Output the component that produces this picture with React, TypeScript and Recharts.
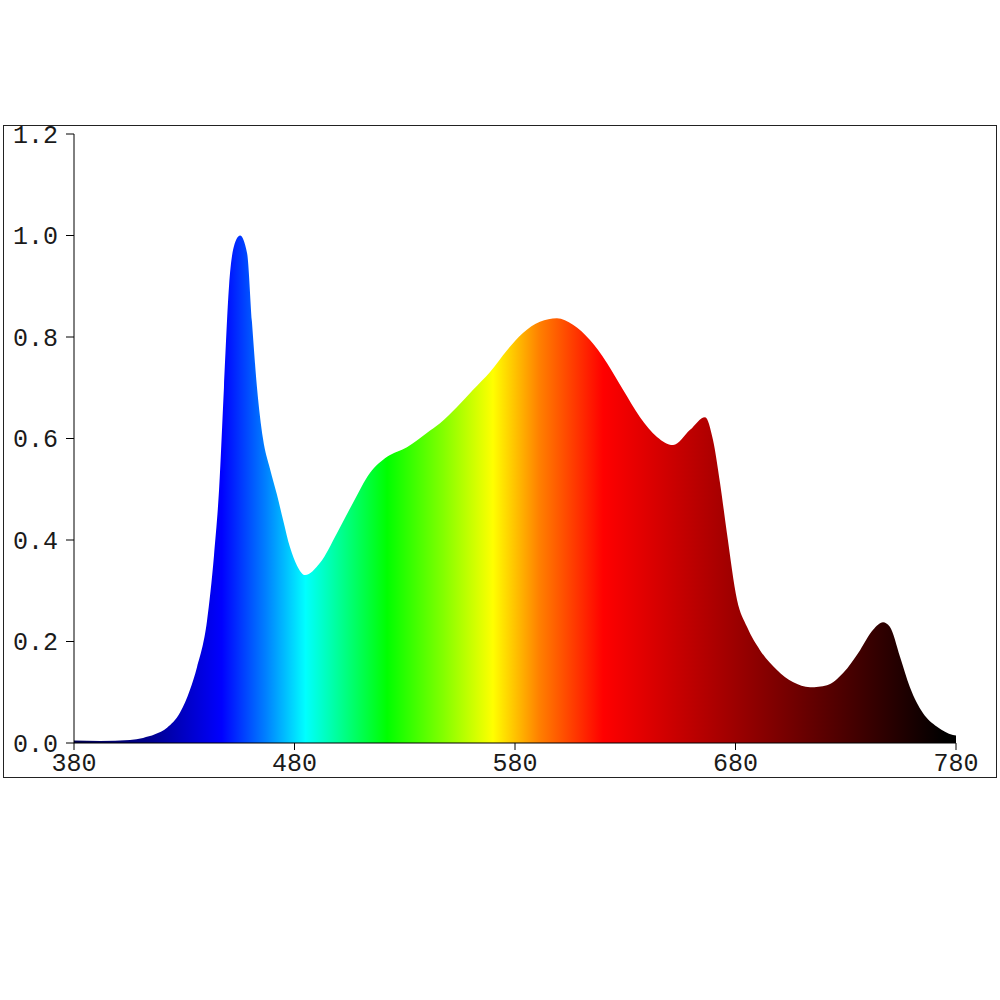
import React from 'react'
import { AreaChart, Area, XAxis, YAxis } from 'recharts'

// wavelength (nm) and relative intensity
const wavelengths = [
  380, 391.8, 405.4, 411.3, 416.7, 422.2, 428.1, 432.6, 435.8, 440.3, 443.5, 445.8, 448.0,
  450.3, 452.6, 455.3, 458.5, 460.7, 463.0, 465.7, 468.9, 472.0, 474.8, 478.0, 481.1, 484.8,
  491.6, 499.3, 506.5, 514.2, 522.0, 531.0, 540.0, 546.0, 553.7, 561.0, 568.7, 576.4, 583.6,
  591.3, 599.0, 606.3, 614.0, 621.7, 629.0, 636.7, 644.4, 651.7, 659.4, 666.2, 669.8, 673.0,
  676.1, 680.7, 685.2, 691.1, 698.8, 706.0, 713.8, 721.5, 728.8, 736.5, 742.4, 746.9, 750.0,
  754.6, 759.1, 765.0, 771.4, 778.6, 780,
]
const intensity = [
  0.005, 0.004, 0.006, 0.01, 0.017, 0.03, 0.06, 0.105, 0.15, 0.24, 0.37, 0.5, 0.7,
  0.9, 0.98, 1.0, 0.965, 0.83, 0.7, 0.6, 0.54, 0.49, 0.44, 0.385, 0.35, 0.331,
  0.355, 0.414, 0.473, 0.532, 0.564, 0.583, 0.611, 0.63, 0.662, 0.696, 0.731, 0.774, 0.808,
  0.83, 0.837, 0.824, 0.794, 0.749, 0.696, 0.642, 0.603, 0.587, 0.617, 0.642, 0.597, 0.512,
  0.414, 0.282, 0.229, 0.183, 0.144, 0.12, 0.11, 0.114, 0.138, 0.183, 0.223, 0.238, 0.229,
  0.17, 0.11, 0.059, 0.032, 0.016, 0.015,
]

const xTicks = [380, 480, 580, 680, 780]
const yTicks = [0, 0.2, 0.4, 0.6, 0.8, 1.0, 1.2]

// spectrum colours along the wavelength range
const spectrumStops: [number, string][] = [
  [380, '#000050'],
  [415, '#000090'],
  [447, '#0000ff'],
  [467, '#0080ff'],
  [485, '#00ffff'],
  [522, '#00ff00'],
  [547, '#80ff00'],
  [570, '#ffff00'],
  [591, '#ff8000'],
  [620, '#ff0000'],
  [775, '#000000'],
  [780, '#000000'],
]

const data = wavelengths.map((w, i) => ({ nm: w, value: intensity[i] }))

const tickStyle = { fontSize: 25, fill: '#1a1a1a', fontFamily: '"Liberation Mono", "DejaVu Sans Mono", monospace' }

export default function App() {
  return (
    <div
      style={{
        position: 'absolute',
        left: 3,
        top: 125,
        width: 994,
        height: 653,
        border: '1px solid #222',
        boxSizing: 'border-box',
        background: '#fff',
      }}
    >
      {/* chart box runs past the frame so the edge labels are not clipped */}
      <div style={{ position: 'absolute', left: 0, top: -20 }}>
        <AreaChart
          width={992}
          height={691}
          data={data}
          margin={{ top: 28, right: 40, left: 0, bottom: 20 }}
        >
          <defs>
            <linearGradient id="spectrum" x1="0" y1="0" x2="1" y2="0">
              {spectrumStops.map(([w, c]) => (
                <stop key={w} offset={`${((w - 380) / 400) * 100}%`} stopColor={c} />
              ))}
            </linearGradient>
          </defs>
          <XAxis
            dataKey="nm"
            type="number"
            domain={[380, 780]}
            ticks={xTicks}
            height={34}
            tickSize={7}
            tickMargin={3}
            axisLine={{ stroke: '#000' }}
            tickLine={{ stroke: '#000' }}
            tick={tickStyle}
            interval={0}
          />
          <YAxis
            type="number"
            domain={[0, 1.2]}
            ticks={yTicks}
            width={70}
            tickSize={8}
            tickMargin={8}
            axisLine={{ stroke: '#000' }}
            tickLine={{ stroke: '#000' }}
            tick={tickStyle}
            tickFormatter={(v: number) => v.toFixed(1)}
            interval={0}
          />
          <Area
            type="monotone"
            dataKey="value"
            stroke="none"
            fill="url(#spectrum)"
            fillOpacity={1}
            isAnimationActive={false}
            dot={false}
            activeDot={false}
          />
        </AreaChart>
      </div>
    </div>
  )
}
